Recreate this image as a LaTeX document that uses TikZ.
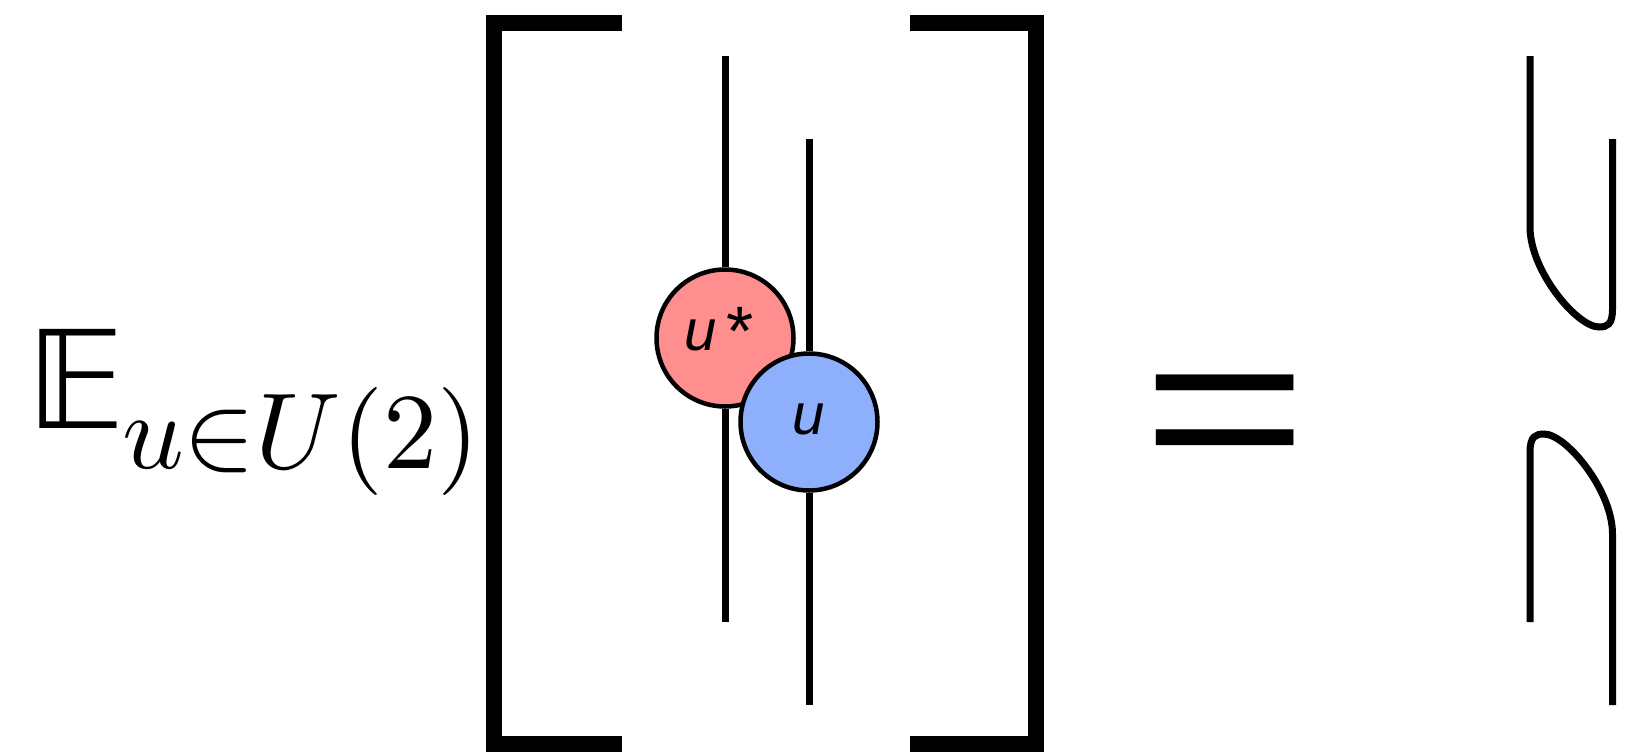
\documentclass[tikz,border=0pt]{standalone}
\usepackage{amssymb}
\usepackage{fontspec}
\newfontfamily\labelfont{Liberation Sans}
\newfontfamily\bbfont{DejaVu Sans}
\usetikzlibrary{calc, positioning}
\definecolor{ustarred}{RGB}{255, 142, 142}
\definecolor{ublue}{RGB}{142, 175, 252}

\begin{document}
\begin{tikzpicture}[
  x=1pt, y=-1pt,
  wire/.style={line width=7pt},
  bracket/.style={line width=16pt, line join=miter},
  gate/.style={circle, draw, line width=4.5pt, minimum size=137pt, inner sep=0pt,
    text height=24pt, text depth=0pt, font=\labelfont\fontsize{58}{58}\selectfont}
]
  \useasboundingbox (0,0) rectangle (1625,755);

  \node[anchor=base west, inner sep=0pt, font=\bbfont\fontsize{136}{136}\selectfont] (E) at (26,428) {𝔼};
  \node[anchor=base west, scale=10.8, inner sep=0pt] (sub) at (120,468) {$u{\in}U(2)$};

  \draw[bracket] (622,22.5) -- (494,22.5) -- (494,744) -- (622,744);
  \draw[bracket] (910,22.5) -- (1036,22.5) -- (1036,744) -- (910,744);

  \coordinate (ltop) at (725,56);
  \coordinate (lbot) at (725,622);
  \coordinate (rtop) at (809,139);
  \coordinate (rbot) at (809,705);

  \node[gate, fill=ustarred] (ustar) at (725,338)
    {\itshape u\kern9pt\upshape\raisebox{-5pt}{\fontsize{70}{70}\selectfont *}\kern12pt\rule{0pt}{1pt}};
  \node[gate, fill=ublue] (u) at (809,422) {\itshape u};

  \draw[wire] (ltop) -- (ustar.north);
  \draw[wire] (ustar.south) -- (lbot);
  \draw[wire] (rtop) -- (u.north);
  \draw[wire] (u.south) -- (rbot);

  \node[anchor=base, xscale=1.2, yscale=0.93, inner sep=0pt, font=\labelfont\fontsize{236}{236}\selectfont] (eq) at (1225,482) {=};

  \coordinate (a1) at (1530,56);
  \coordinate (a2) at (1612.5,139);
  \coordinate (b1) at (1530,622);
  \coordinate (b2) at (1612.5,705);
  \draw[wire] (a1) -- (1530,227) .. controls (1530,271) and (1577,327) .. (1599,327)
    .. controls (1607,327) and (1612.5,325) .. (1612.5,309) -- (a2);
  \draw[wire] (b1) -- (1530,452) .. controls (1530,436) and (1536,434) .. (1544,434)
    .. controls (1566,434) and (1612.5,490) .. (1612.5,534) -- (b2);
\end{tikzpicture}
\end{document}
